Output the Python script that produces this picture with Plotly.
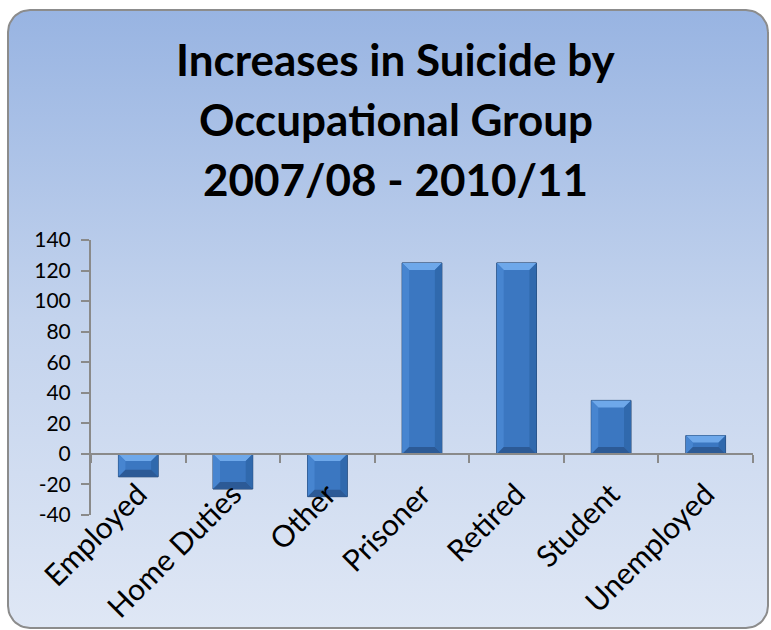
import numpy as np
import plotly.graph_objects as go

# ---- data ----
categories = ["Employed", "Home Duties", "Other", "Prisoner", "Retired", "Student", "Unemployed"]
increases = [-15, -23, -28, 125, 125, 35, 12]
y_tickvals = [-40, -20, 0, 20, 40, 60, 80, 100, 120, 140]
y_ticktext = ["-40", "-20", "0", "20", "40", "60", "80", "100", "120", "140"]
title_lines = ["Increases in Suicide by", "Occupational Group", "2007/08 - 2010/11"]

W, H = 771, 630
FONT = "Lato"
AXIS_GREY = "#8a8a8a"
BARGAP = 0.58
Y_RANGE = [-40, 140]
X_RANGE = [-0.5, len(categories) - 0.5]
PLOT_PX = dict(left=91, right=753, top=240, bottom=515)

# ---- rounded background frame (pixel coords, y up) ----
fx0, fx1, fy0, fy1, rad = 8, 768, 2, 620, 22
def arc(cx, cy, a0, a1, n=12):
    t = np.linspace(np.radians(a0), np.radians(a1), n)
    return cx + rad * np.cos(t), cy + rad * np.sin(t)
pts = [
    arc(fx1 - rad, fy1 - rad, 0, 90),
    arc(fx0 + rad, fy1 - rad, 90, 180),
    arc(fx0 + rad, fy0 + rad, 180, 270),
    arc(fx1 - rad, fy0 + rad, 270, 360),
]
bx = np.concatenate([p[0] for p in pts] + [pts[0][0][:1]])
by = np.concatenate([p[1] for p in pts] + [pts[0][1][:1]])

fig = go.Figure()
fig.add_trace(go.Scatter(
    x=bx, y=by, mode="lines", fill="toself",
    line=dict(color="#8c8c8c", width=2),
    fillgradient=dict(type="vertical", start=fy0, stop=fy1,
                      colorscale=[[0, "#dfe7f5"], [0.5, "#c3d3ed"], [1, "#98b4e2"]]),
    hoverinfo="skip", showlegend=False, xaxis="x", yaxis="y",
))

fig.add_trace(go.Bar(
    x=categories, y=increases, xaxis="x2", yaxis="y2",
    marker=dict(color="#3b77c1", line=dict(color="#1f416c", width=1)),
    showlegend=False,
))

# ---- bevel faces drawn over the bars (numeric overlay axis x3) ----
bw = 1 - BARGAP
dx = 7 * (X_RANGE[1] - X_RANGE[0]) / (PLOT_PX["right"] - PLOT_PX["left"])
dy = 7 * (Y_RANGE[1] - Y_RANGE[0]) / (PLOT_PX["bottom"] - PLOT_PX["top"])
faces = {"top": ([], [], "#6ea8ea"), "left": ([], [], "#4785d0"),
         "right": ([], [], "#3069ad"), "bottom": ([], [], "#2c5a96")}
for i, v in enumerate(increases):
    t, b = max(v, 0), min(v, 0)
    L, R = i - bw / 2, i + bw / 2
    quads = {
        "top": [(L, t), (R, t), (R - dx, t - dy), (L + dx, t - dy)],
        "left": [(L, t), (L + dx, t - dy), (L + dx, b + dy), (L, b)],
        "right": [(R, t), (R - dx, t - dy), (R - dx, b + dy), (R, b)],
        "bottom": [(L, b), (L + dx, b + dy), (R - dx, b + dy), (R, b)],
    }
    for k, q in quads.items():
        xs, ys, _ = faces[k]
        xs += [p[0] for p in q] + [q[0][0], None]
        ys += [p[1] for p in q] + [q[0][1], None]
for k, (xs, ys, col) in faces.items():
    fig.add_trace(go.Scatter(x=xs, y=ys, mode="lines", fill="toself", fillcolor=col,
                             line=dict(width=0, color=col), xaxis="x3", yaxis="y2",
                             hoverinfo="skip", showlegend=False))

zero_px = PLOT_PX["bottom"] - (0 - Y_RANGE[0]) * (PLOT_PX["bottom"] - PLOT_PX["top"]) / (Y_RANGE[1] - Y_RANGE[0])
fig.update_layout(
    width=W, height=H, autosize=False,
    margin=dict(l=0, r=0, t=0, b=0, pad=0, autoexpand=False),
    paper_bgcolor="white", plot_bgcolor="rgba(0,0,0,0)",
    bargap=BARGAP, showlegend=False,
    font=dict(family=FONT, color="black"),
    xaxis=dict(domain=[0, 1], range=[0, W], visible=False, fixedrange=True),
    yaxis=dict(domain=[0, 1], range=[0, H], visible=False, fixedrange=True),
    xaxis2=dict(domain=[PLOT_PX["left"] / W, PLOT_PX["right"] / W], anchor="free",
                position=1 - zero_px / H, range=X_RANGE,
                showline=True, linecolor=AXIS_GREY, linewidth=2,
                ticks="outside", tickson="boundaries", ticklen=8, tickwidth=2,
                tickcolor=AXIS_GREY, tickangle=-45, tickfont=dict(size=30, family=FONT),
                showgrid=False, zeroline=False, automargin=False, ticklabelstandoff=10),
    xaxis3=dict(overlaying="x2", range=X_RANGE, visible=False, anchor="y2"),
    yaxis2=dict(domain=[1 - PLOT_PX["bottom"] / H, 1 - PLOT_PX["top"] / H], anchor="x2",
                range=Y_RANGE, tickvals=y_tickvals, ticktext=y_ticktext,
                showline=True, linecolor=AXIS_GREY,
                linewidth=2, ticks="outside", ticklen=8, tickwidth=2, tickcolor=AXIS_GREY,
                tickfont=dict(size=21, family=FONT), showgrid=False, zeroline=False,
                ticklabelstandoff=6, automargin=False),
)

line_centers = [59, 119, 179]
for txt, yc in zip(title_lines, line_centers):
    fig.add_annotation(text="<b>%s</b>" % txt, xref="paper", yref="paper",
                       x=396 / W, y=1 - yc / H, xanchor="center", yanchor="middle",
                       showarrow=False, font=dict(size=44, family=FONT, color="black"))

fig.write_html("out.html")
